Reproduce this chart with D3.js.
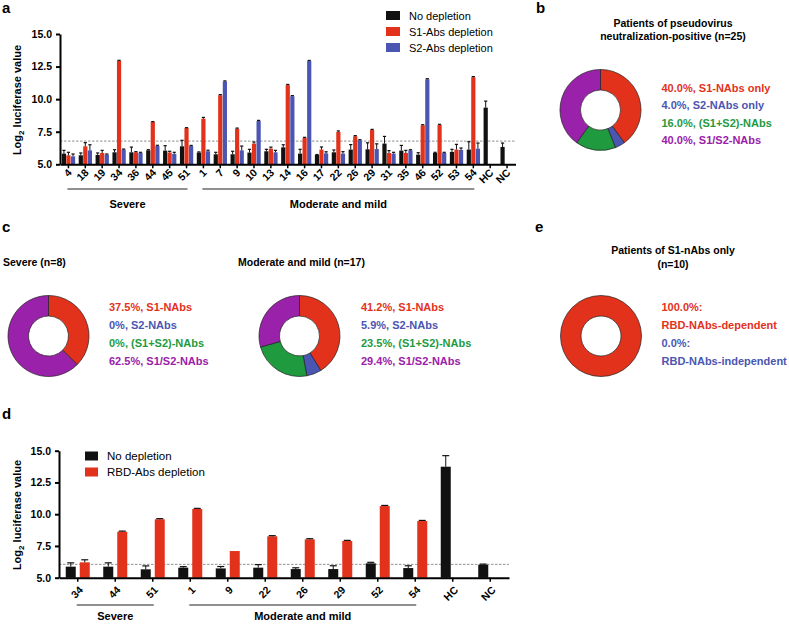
<!DOCTYPE html>
<html><head><meta charset="utf-8">
<script src="https://cdn.jsdelivr.net/npm/d3@7"></script>
<style>
body{margin:0;background:#fff;}
svg{font-family:"Liberation Sans",Arial,Helvetica,sans-serif;}
</style></head>
<body><svg id="c" width="789" height="624"></svg>
<script>
// ---------- DATA ----------
const groupsA = ["4","18","19","34","36","44","45","51","1","7","9","10","13","14","16","17","22","26","29","31","35","46","52","53","54","HC","NC"];
const noDepA = [5.82,5.69,5.72,5.92,5.92,6.07,6.05,6.38,5.9,5.77,5.77,5.9,6.0,6.3,5.82,5.72,5.92,6.13,6.15,6.59,6.05,5.74,5.87,5.95,6.13,9.35,6.33];
const s1DepA = [5.69,6.38,5.87,12.95,5.92,8.25,5.9,7.78,8.5,10.3,7.73,6.59,6.2,11.08,7.02,6.13,7.48,7.15,7.63,5.87,5.87,7.99,8.02,6.13,11.68,null,null];
const s2DepA = [5.61,6.07,5.74,6.12,5.87,6.41,5.8,6.4,6.0,11.35,6.07,8.32,5.92,10.22,12.92,5.84,5.82,6.84,6.17,5.82,6.07,11.52,5.87,6.1,6.2,null,null];
const errNoA = [0.25,0.18,0.15,0.2,0.4,0.05,0.38,0.46,0.05,0.15,0.23,0.25,0.15,0.2,0.33,0.03,0.18,0.38,0.5,0.55,0.4,0.15,0.05,0.2,0.6,0.5,0.3];
const errS1A = [0.23,0.28,0.2,0.03,0.05,0.03,0.1,0.03,0.1,0.05,0.05,0.12,0.12,0.05,0.05,0.2,0.08,0.05,0.05,0.18,0.2,0.05,0.05,0.4,0.05,null,null];
const errS2A = [0.18,0.43,0.05,0.05,0.05,0.05,0.12,0.05,0.08,0.05,0.33,0.05,0.15,0.05,0.05,0.12,0.15,0.05,0.4,0.1,0.05,0.05,0.05,0.15,0.43,null,null];
const cutoffA = 6.78;
const seriesA = ["No depletion","S1-Abs depletion","S2-Abs depletion"];

const groupsD = ["34","44","51","1","9","22","26","29","52","54","HC","NC"];
const noDepD = [5.87,5.87,5.66,5.79,5.73,5.79,5.68,5.68,6.13,5.76,13.74,6.02];
const rbdDepD = [6.21,8.62,9.6,10.41,7.1,8.26,8.02,7.89,10.64,9.46,null,null];
const errNoD = [0.3,0.3,0.27,0.08,0.15,0.24,0.1,0.26,0.08,0.18,0.87,0.05];
const errRbdD = [0.2,0.05,0.05,0.05,0,0.05,0.05,0.05,0.05,0.05,null,null];
const cutoffD = 6.05;
const seriesD = ["No depletion","RBD-Abs depletion"];

const yTicks = [5.0,7.5,10.0,12.5,15.0];

const pieB = [40.0,4.0,16.0,40.0];
const pieBLabels = ["40.0%, S1-NAbs only","4.0%, S2-NAbs only","16.0%, (S1+S2)-NAbs","40.0%, S1/S2-NAbs"];
const pieC1 = [37.5,0,0,62.5];
const pieC1Labels = ["37.5%, S1-NAbs","0%, S2-NAbs","0%, (S1+S2)-NAbs","62.5%, S1/S2-NAbs"];
const pieC2 = [41.2,5.9,23.5,29.4];
const pieC2Labels = ["41.2%, S1-NAbs","5.9%, S2-NAbs","23.5%, (S1+S2)-NAbs","29.4%, S1/S2-NAbs"];
const pieE = [100.0,0.0];
const pieELabels = ["100.0%:","RBD-NAbs-dependent","0.0%:","RBD-NAbs-independent"];

// ---------- STYLE ----------
const RED="#e2321c", BLUE="#4b55b2", GREEN="#1f9a3f", PURPLE="#9a21a9", BLACK="#111";
const pieColors=[RED,BLUE,GREEN,PURPLE];
const svg=d3.select("#c");

function panelLetter(t,x,y){svg.append("text").attr("x",x).attr("y",y).attr("font-size",15).attr("font-weight","bold").text(t);}

function yLabel(cx,cy){
  const t=svg.append("text").attr("transform",`translate(${cx},${cy}) rotate(-90)`).attr("text-anchor","middle")
    .attr("font-size",11).attr("font-weight","bold");
  t.append("tspan").text("Log");
  t.append("tspan").attr("font-size",8).attr("dy",3).text("2");
  t.append("tspan").attr("dy",-3).text(" luciferase value");
}

function barChart(o){
  const y=d3.scaleLinear().domain([5,15]).range([o.y0,o.y1]);
  const x=d3.scaleBand().domain(o.groups).range([o.x0,o.x1]).padding(0);
  const g=svg.append("g");
  g.append("line").attr("x1",o.x0).attr("x2",o.x1).attr("y1",y(o.cutoff)).attr("y2",y(o.cutoff))
    .attr("stroke","#777").attr("stroke-width",0.8).attr("stroke-dasharray","2.5,1.5");
  o.series.forEach((s)=>{
    o.groups.forEach((gname,i)=>{
      const v=s.vals[i]; if(v==null) return;
      const cx=x(gname)+x.bandwidth()/2+s.off;
      g.append("rect").attr("x",cx-o.bw/2).attr("width",o.bw).attr("y",y(v)).attr("height",y(5)-y(v)).attr("fill",s.color);
      const e=s.err[i];
      if(e!=null && e>0){
        g.append("line").attr("x1",cx).attr("x2",cx).attr("y1",y(v)).attr("y2",y(v+e)).attr("stroke","#111").attr("stroke-width",1);
        g.append("line").attr("x1",cx-o.cap).attr("x2",cx+o.cap).attr("y1",y(v+e)).attr("y2",y(v+e)).attr("stroke","#111").attr("stroke-width",1.2);
      }
    });
  });
  const ya=g.append("g").attr("transform",`translate(${o.x0},0)`).call(d3.axisLeft(y).tickValues(yTicks).tickFormat(d3.format(".1f")).tickSize(4).tickSizeOuter(0));
  ya.select(".domain").attr("stroke","#000").attr("stroke-width",2);
  ya.selectAll(".tick line").attr("stroke","#000").attr("stroke-width",2);
  ya.selectAll("text").attr("font-size",10.5).attr("font-weight","bold").attr("fill","#000").attr("font-family","Liberation Sans,Arial,sans-serif").attr("dx",-1);
  const xa=g.append("g").attr("transform",`translate(0,${o.y0})`).call(d3.axisBottom(x).tickSize(4).tickSizeOuter(0));
  xa.select(".domain").attr("stroke","#000").attr("stroke-width",2);
  xa.selectAll(".tick line").attr("stroke","#000").attr("stroke-width",1.5);
  xa.selectAll("text").attr("font-size",o.xfs).attr("font-weight","bold").attr("fill","#000")
    .attr("font-family","Liberation Sans,Arial,sans-serif")
    .attr("text-anchor","end").attr("dy",0).attr("y",0)
    .attr("transform",`translate(${o.lx},${o.ly}) rotate(-45)`);
  o.brackets.forEach(b=>{
    const a=x(o.groups[b.from])+x.bandwidth()/2-1, c=x(o.groups[b.to])+x.bandwidth()/2+1;
    g.append("line").attr("x1",a).attr("x2",c).attr("y1",o.by).attr("y2",o.by).attr("stroke","#222").attr("stroke-width",1.2);
    g.append("text").attr("x",(a+c)/2).attr("y",o.by+o.tdy).attr("text-anchor","middle").attr("font-size",11).attr("font-weight","bold").text(b.label);
  });
  return {x,y};
}

// ---------- PANEL A ----------
panelLetter("a",2,13);
barChart({groups:groupsA,x0:60,x1:515.5,y0:164.3,y1:34,cutoff:cutoffA,bw:4.2,cap:1.6,xfs:10.5,lx:4,ly:9,
  series:[{vals:noDepA,err:errNoA,color:BLACK,off:-4.5},{vals:s1DepA,err:errS1A,color:RED,off:0},{vals:s2DepA,err:errS2A,color:BLUE,off:4.6}],
  brackets:[{from:0,to:7,label:"Severe"},{from:8,to:24,label:"Moderate and mild"}],by:189,tdy:19});
yLabel(21,100);
seriesA.forEach((s,i)=>{
  svg.append("rect").attr("x",386).attr("y",11+i*16).attr("width",14).attr("height",9).attr("fill",[BLACK,RED,BLUE][i]);
  svg.append("text").attr("x",409).attr("y",19.5+i*16).attr("font-size",11).text(s);
});

// ---------- PANEL D ----------
panelLetter("d",2,419);
barChart({groups:groupsD,x0:59,x1:509,y0:577.7,y1:450.7,cutoff:cutoffD,bw:10,cap:3.5,xfs:10.5,lx:6,ly:13,
  series:[{vals:noDepD,err:errNoD,color:BLACK,off:-7},{vals:rbdDepD,err:errRbdD,color:RED,off:7}],
  brackets:[{from:0,to:2,label:"Severe"},{from:3,to:9,label:"Moderate and mild"}],by:605,tdy:15});
yLabel(21,515);
seriesD.forEach((s,i)=>{
  svg.append("rect").attr("x",85).attr("y",451.5+i*16).attr("width",13).attr("height",9).attr("fill",[BLACK,RED][i]);
  svg.append("text").attr("x",107).attr("y",460+i*16).attr("font-size",11.5).text(s);
});

// ---------- DONUTS ----------
function donut(cx,cy,vals,colors,labels,labelColors,lx,ly0,dy){
  const pie=d3.pie().sort(null).value(d=>d)(vals);
  const arc=d3.arc().innerRadius(20).outerRadius(40.5);
  const g=svg.append("g").attr("transform",`translate(${cx},${cy})`);
  g.selectAll("path").data(pie.filter(p=>p.value>0)).join("path").attr("d",arc)
    .attr("fill",(d)=>colors[d.index]).attr("stroke","#222").attr("stroke-width",0.7);
  labels.forEach((t,i)=>{
    svg.append("text").attr("x",lx).attr("y",ly0+i*dy).attr("font-size",11).attr("font-weight","bold").attr("fill",labelColors[i]).text(t);
  });
}
panelLetter("b",536,13);
svg.append("text").attr("x",673).attr("y",27).attr("text-anchor","middle").attr("font-size",10.5).attr("font-weight","bold").text("Patients of pseudovirus");
svg.append("text").attr("x",673).attr("y",39.5).attr("text-anchor","middle").attr("font-size",10.5).attr("font-weight","bold").text("neutralization-positive (n=25)");
donut(600.5,110,pieB,pieColors,pieBLabels,pieColors,661.5,91.5,17.5);
panelLetter("c",2,232);
svg.append("text").attr("x",3).attr("y",266).attr("font-size",10.5).attr("font-weight","bold").text("Severe (n=8)");
svg.append("text").attr("x",238).attr("y",266).attr("font-size",10.5).attr("font-weight","bold").text("Moderate and mild (n=17)");
donut(48.5,336,pieC1,pieColors,pieC1Labels,pieColors,109,311,18);
donut(299.5,336,pieC2,pieColors,pieC2Labels,pieColors,361,311,18);
panelLetter("e",535,232);
svg.append("text").attr("x",673).attr("y",254).attr("text-anchor","middle").attr("font-size",10.5).attr("font-weight","bold").text("Patients of S1-nAbs only");
svg.append("text").attr("x",673).attr("y",268).attr("text-anchor","middle").attr("font-size",10.5).attr("font-weight","bold").text("(n=10)");
donut(601,336,pieE,[RED,BLUE],pieELabels,[RED,RED,BLUE,BLUE],661.5,311,18);
</script></body></html>
